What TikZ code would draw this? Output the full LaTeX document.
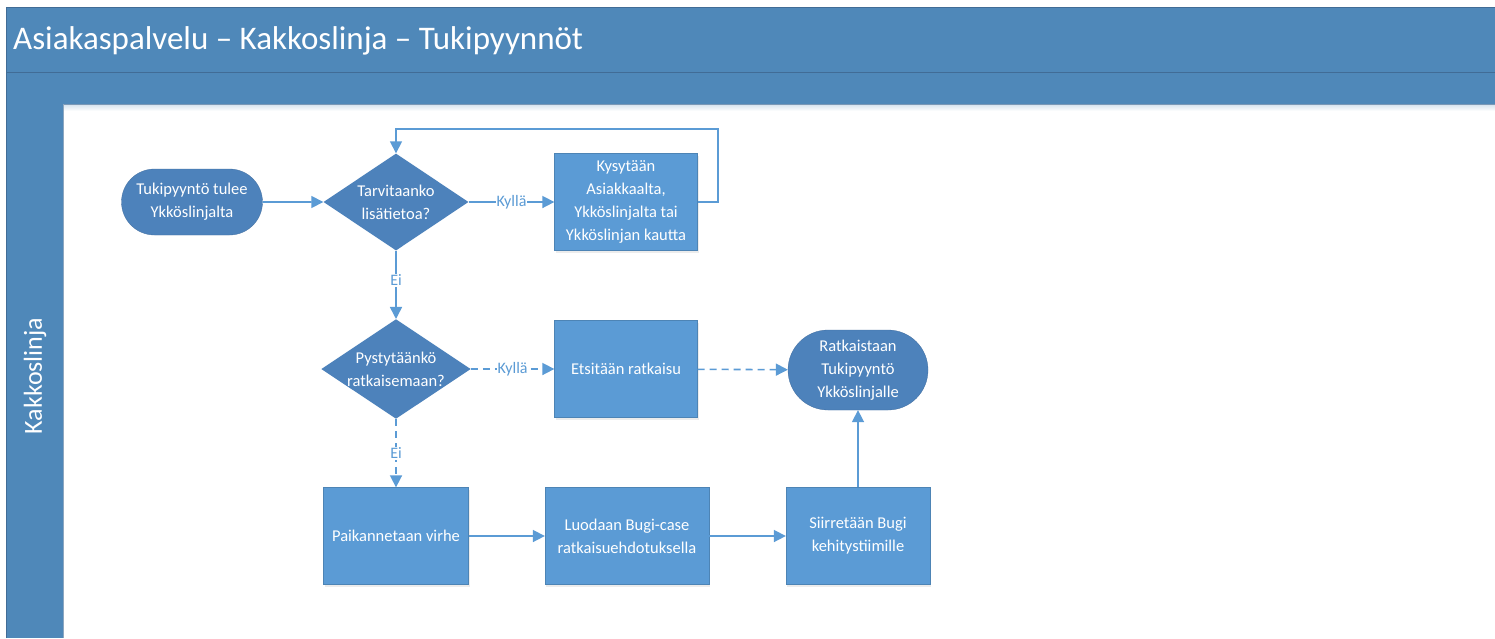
\documentclass[tikz,border=0pt]{standalone}
\usepackage{fontspec}
\setmainfont{Carlito}
\usetikzlibrary{arrows.meta,shapes.geometric,shapes.misc,shadows}
\definecolor{barblue}{RGB}{79,136,185}
\definecolor{barline}{RGB}{65,108,150}
\definecolor{darkshape}{RGB}{77,130,187}
\definecolor{lightshape}{RGB}{91,155,213}
\definecolor{linkblue}{RGB}{91,155,213}
\tikzset{
  shapetext/.style={text=white, font=\fontsize{16.5}{23}\selectfont, align=center},
  procbox/.style={shapetext, rectangle, fill=lightshape, draw=lightshape!85!black, line width=0.3pt,
    minimum width=145pt, minimum height=97pt, inner sep=2pt,
    drop shadow={shadow xshift=1pt, shadow yshift=-2pt, opacity=0.15}},
  decision/.style={shapetext, diamond, fill=darkshape, minimum width=145pt, minimum height=97pt,
    aspect=1.5, inner sep=0pt},
  terminal/.style={shapetext, rounded rectangle, fill=darkshape, draw=darkshape!85!black, line width=0.3pt,
    minimum width=145pt, minimum height=66pt, inner sep=2pt},
  link/.style={draw=linkblue, line width=1.6pt, -{Triangle[length=12pt,width=12pt]}},
  dlink/.style={link, dash pattern=on 7pt off 5pt},
  linklabel/.style={fill=white, text=linkblue, font=\fontsize{16}{18}\selectfont, inner sep=1pt}
}
\begin{document}
\begin{tikzpicture}[x=1pt,y=-1pt]
\useasboundingbox (0,0) rectangle (1495,638);
\fill[white] (0,0) rectangle (1495,638);
% pool frame: title bar, header bar and lane label column
\fill[barblue] (6,7) rectangle (1495,104);
\fill[barblue] (6,104) rectangle (63,638);
\shade[top color=barblue!25, bottom color=white] (63,104) rectangle (1495,111);
\draw[barline, line width=1pt] (6,638) -- (6,7) -- (1495,7);
\draw[barline, line width=1pt] (6,72) -- (1495,72);
\draw[barline!70!white, line width=0.8pt] (63,104) -- (1495,104);
\draw[barline!60!white, line width=0.6pt] (63,104) -- (63,638);
\node[anchor=west, text=white, font=\fontsize{33}{38}\selectfont, inner sep=0pt] (title) at (13,41) {Asiakaspalvelu – Kakkoslinja – Tukipyynnöt};
\node[rotate=90, text=white, font=\fontsize{26}{30}\selectfont, inner sep=0pt] (lane) at (35,376) {Kakkoslinja};

% flow shapes
\node[terminal] (start) at (192,202) {Tukipyyntö tulee\\Ykköslinjalta};
\node[decision] (d1) at (396,202) {Tarvitaanko\\lisätietoa?};
\node[procbox, minimum width=143pt] (ask) at (626,202) {Kysytään\\Asiakkaalta,\\Ykköslinjalta tai\\Ykköslinjan kautta};
\node[decision] (d2) at (396,369) {Pystytäänkö\\ratkaisemaan?};
\node[procbox, minimum width=143pt] (find) at (626,369) {Etsitään ratkaisu};
\node[terminal, minimum width=144pt, minimum height=80pt] (solve) at (858,370) {Ratkaistaan\\Tukipyyntö\\Ykköslinjalle};
\node[procbox] (locate) at (396,536) {Paikannetaan virhe};
\node[procbox, minimum width=164pt] (bug) at (627,536) {Luodaan Bugi-case\\ratkaisuehdotuksella};
\node[procbox, minimum width=144pt] (move) at (858,536) {Siirretään Bugi\\kehitystiimille};

% connectors
\coordinate (loopR) at (718,129);
\draw[link] (start) -- (d1);
\draw[link] (d1) -- node[linklabel] {Kyllä} (ask);
\draw[link] (ask.east) -| (loopR) -| (d1.north);
\draw[link] (d1) -- node[linklabel, pos=0.43] {Ei} (d2);
\draw[dlink] (d2) -- node[linklabel] {Kyllä} (find);
\draw[dlink] (find) -- (solve);
\draw[dlink] (d2) -- node[linklabel, pos=0.5] {Ei} (locate);
\draw[link] (locate) -- (bug);
\draw[link] (bug) -- (move);
\draw[link] (move) -- (solve);
\end{tikzpicture}
\end{document}
